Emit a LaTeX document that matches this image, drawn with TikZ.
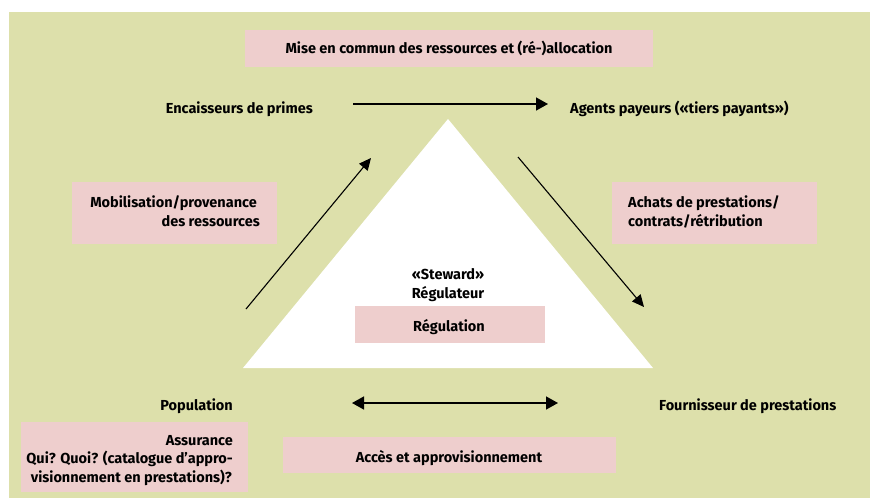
\documentclass[tikz,border=0pt]{standalone}
\usepackage{fontspec}
\setmainfont{Fira Sans}[BoldFont={* Bold}]
\usetikzlibrary{arrows.meta}
\definecolor{bggreen}{RGB}{221,224,171}
\definecolor{boxpink}{RGB}{238,206,205}
\begin{document}
\begin{tikzpicture}[x=1pt,y=-1pt,
  pinkbox/.style={fill=boxpink, draw=none, inner sep=0pt, anchor=north west},
  lbl/.style={font=\bfseries\fontsize{14.5}{18}\selectfont, inner sep=0pt, text=black},
  arr/.style={line width=1.5pt, -{Triangle[length=12pt,width=13pt]}},
  darr/.style={line width=1.5pt, {Triangle[length=12pt,width=13pt]}-{Triangle[length=12pt,width=13pt]}},
  diag/.style={line width=1.1pt, -{Triangle[length=12pt,width=11pt]}}]
\useasboundingbox (0,0) rectangle (870,498);
\fill[white] (0,0) rectangle (870,498);
\fill[bggreen] (9,12) rectangle (870,498);
% triangle
\coordinate (apex) at (448,119);
\coordinate (bl) at (243,368);
\coordinate (br) at (653,368);
\fill[white] (apex) -- (br) -- (bl) -- cycle;
% pink boxes
\node[pinkbox, minimum width=408, minimum height=37] (bmise) at (245,30) {};
\node[pinkbox, minimum width=205, minimum height=62] (bmob) at (72,182) {};
\node[pinkbox, minimum width=205, minimum height=62] (bach) at (612,182) {};
\node[pinkbox, minimum width=190, minimum height=37] (breg) at (355,306) {};
\node[pinkbox, minimum width=227, minimum height=70] (bass) at (21,422) {};
\node[pinkbox, minimum width=333, minimum height=36] (bacc) at (283,437) {};
% texts
\node[lbl, anchor=base] (tmise) at (449,53) {Mise en commun des ressources et (ré-)allocation};
\node[lbl, anchor=base east] (enc) at (313,113) {Encaisseurs de primes};
\node[lbl, anchor=base west] (agp) at (570,113) {Agents payeurs («tiers payants»)};
\node[lbl, anchor=base east] (pop) at (233,410) {Population};
\node[lbl, anchor=base west] (fou) at (659,410) {Fournisseur de prestations};
\node[lbl, anchor=base east] (mob1) at (257,207) {Mobilisation/provenance};
\node[lbl, anchor=base east] (mob2) at (260,226) {des ressources};
\node[lbl, anchor=base west] (ach1) at (628,207) {Achats de prestations/};
\node[lbl, anchor=base west] (ach2) at (628,226) {contrats/rétribution};
\node[lbl, anchor=base] (stw) at (448,279) {«Steward»};
\node[lbl, anchor=base] (regu) at (448,298) {Régulateur};
\node[lbl, anchor=base] (treg) at (449,331) {Régulation};
\node[lbl, anchor=base east] (ass1) at (233,445) {Assurance};
\node[lbl, anchor=base east] (ass2) at (233,463) {Qui? Quoi? (catalogue d’appro-};
\node[lbl, anchor=base east] (ass3) at (232,482) {visionnement en prestations)?};
\node[lbl, anchor=base] (tacc) at (449,462) {Accès et approvisionnement};
% arrows
\coordinate (ta) at (353,104);
\coordinate (tb) at (548,104);
\draw[arr] (ta) -- (tb);
\coordinate (ba) at (352,403);
\coordinate (bb) at (558,403);
\draw[darr] (ba) -- (bb);
\coordinate (la) at (246,309);
\coordinate (lb) at (371,158);
\draw[diag] (la) -- (lb);
\coordinate (ra) at (518,157);
\coordinate (rb) at (644,307);
\draw[diag] (ra) -- (rb);
\end{tikzpicture}
\end{document}
